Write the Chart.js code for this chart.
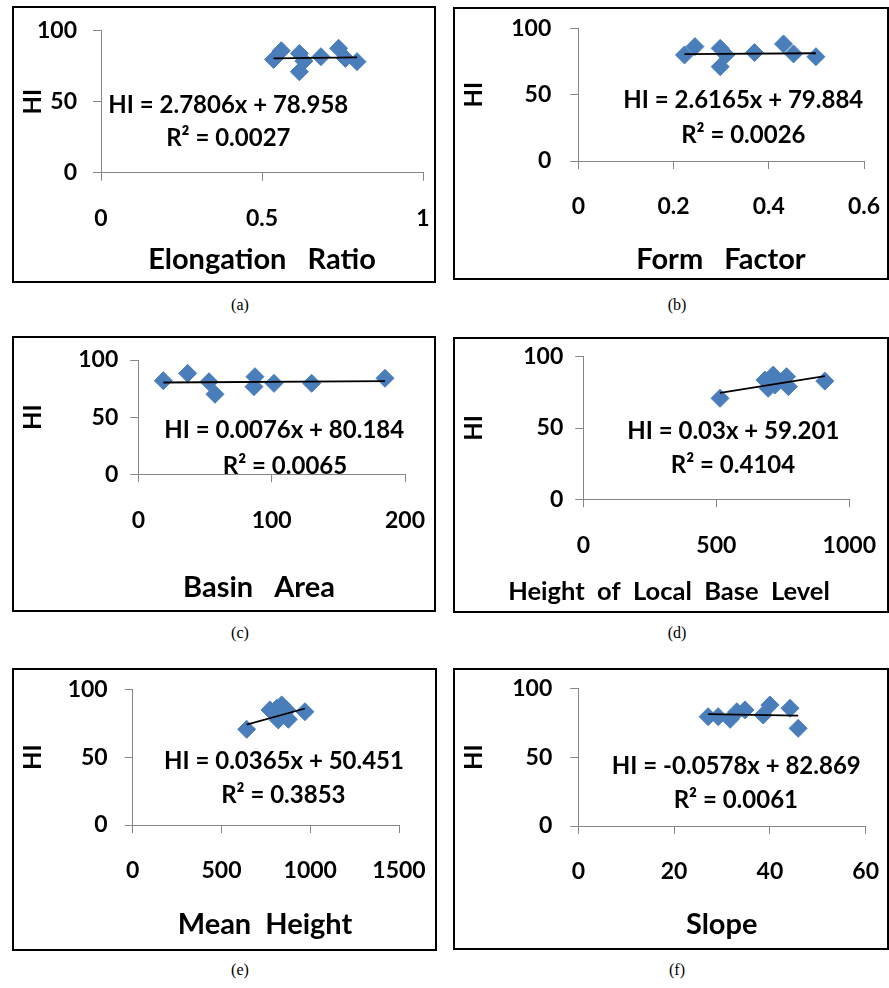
<!DOCTYPE html>
<html><head><meta charset="utf-8">
<script src="https://cdn.jsdelivr.net/npm/chart.js@4.4.0/dist/chart.umd.min.js"></script>
<style>
html,body{margin:0;padding:0;background:#fff}
body{width:889px;height:988px;position:relative;overflow:hidden}
.panel{position:absolute;border:2px solid #000;box-sizing:border-box;background:#fff}
.panel canvas{position:absolute;left:0;top:0}
.cap{position:absolute;font-family:"Liberation Serif","DejaVu Serif",serif;font-size:16px;color:#000;transform:translate(-50%,-50%);white-space:nowrap}
</style></head><body>
<script>
// ---------------- DATA ----------------
const elongationRatio = [0.536, 0.560, 0.616, 0.630, 0.616, 0.683, 0.738, 0.759, 0.795];
const hiElongation    = [79.8, 85.9, 84.0, 78.6, 71.1, 81.7, 87.6, 80.5, 78.2];

const formFactor = [0.223, 0.245, 0.298, 0.310, 0.298, 0.370, 0.431, 0.452, 0.499];
const hiForm     = [79.9, 86.2, 84.9, 80.0, 71.1, 81.7, 88.2, 80.7, 78.6];

const basinArea = [18.75, 37, 53, 57.5, 87.5, 86.75, 101.75, 130, 185];
const hiBasin   = [81.9, 88.3, 81.0, 70.0, 85.4, 76.7, 79.6, 79.6, 84.0];

const baseLevelHeight = [514, 683, 695, 714, 720, 733, 764, 771, 908];
const hiBaseLevel     = [70.8, 83.6, 77.8, 87.1, 80.1, 82.5, 86.0, 79.0, 82.9];

const meanHeight = [642, 773, 811, 820, 839, 849, 867, 877, 970];
const hiMean     = [70.5, 84.8, 86.0, 77.4, 88.5, 82.3, 84.8, 77.9, 83.5];

const slopeDeg = [27.1, 29.2, 31.7, 33.1, 34.8, 38.6, 40.0, 44.2, 45.9];
const hiSlope  = [79.4, 79.4, 77.5, 83.0, 84.3, 80.6, 87.9, 85.5, 70.9];

const xTitles = ['Elongation   Ratio', 'Form   Factor', 'Basin   Area', 'Height  of  Local  Base  Level', 'Mean  Height', 'Slope'];
const captions = ['(a)', '(b)', '(c)', '(d)', '(e)', '(f)'];
const xMaxes  = [1, 0.6, 200, 1000, 1500, 60];
const xSteps  = [0.5, 0.2, 100, 500, 500, 20];
const yTicks  = [0, 50, 100];
const trendSlope     = ['2.7806', '2.6165', '0.0076', '0.03', '0.0365', '-0.0578'];
const trendIntercept = ['78.958', '79.884', '80.184', '59.201', '50.451', '82.869'];
const rSquared       = ['0.0027', '0.0026', '0.0065', '0.4104', '0.3853', '0.0061'];

const seriesX = [elongationRatio, formFactor, basinArea, baseLevelHeight, meanHeight, slopeDeg];
const seriesY = [hiElongation, hiForm, hiBasin, hiBaseLevel, hiMean, hiSlope];

// ---------------- LAYOUT (page pixels) ----------------
const layoutCfg = [
  {box:[12,6,424,277],  plot:[101,30.7,423,172.7],   eq:[228.3,105], r2:[228.3,138.3], xt:[262,260],   xtFont:29, yPad:16, cap:[240,305]},
  {box:[453,7,436,273], plot:[578.3,28.3,864,161],   eq:[743.3,100], r2:[743.3,135],   xt:[721,259.3], xtFont:29, yPad:19, cap:[677,305]},
  {box:[12,336,424,276],plot:[138.3,360,405,474.3],  eq:[284.2,430], r2:[285,466],     xt:[259,588],   xtFont:29, yPad:12, cap:[240,633]},
  {box:[453,337,436,276],plot:[583.3,356.7,849.3,499.3],eq:[733.3,431.7],r2:[733,465], xt:[669,591.7], xtFont:25.5, yPad:12, cap:[677,633]},
  {box:[12,668,425,283],plot:[132.7,689.3,399,825],  eq:[284,761],   r2:[283.3,795],   xt:[265,925],   xtFont:29, yPad:17, cap:[240,970]},
  {box:[453,668,436,282],plot:[578.3,688.3,865.7,826],eq:[736.3,766.7],r2:[735.8,800], xt:[721.7,925], xtFont:29, yPad:18, cap:[677,970]}
];

const FONT = 'Lato, "Open Sans", "Liberation Sans", sans-serif';
const BLUE = '#4A7EBB';
const AXIS = '#868686';

const textPlugin = {
  id: 'panelText',
  afterDraw(chart, args, opts) {
    const ctx = chart.ctx;
    ctx.save();
    ctx.fillStyle = '#000';
    ctx.textAlign = 'center';
    ctx.textBaseline = 'middle';
    for (const t of opts.items) {
      ctx.font = 'bold ' + t.size + 'px ' + FONT;
      ctx.fillText(t.text, t.x, t.y);
    }
    ctx.restore();
  }
};

function zeroPad(s) { s.paddingTop = 0; s.paddingBottom = 0; s.paddingLeft = 0; s.paddingRight = 0; }
function fmt(v) { return String(parseFloat(Number(v).toFixed(6))); }

layoutCfg.forEach((L, i) => {
  const [bx, by, bw, bh] = L.box;
  const div = document.createElement('div');
  div.className = 'panel';
  div.style.left = bx + 'px'; div.style.top = by + 'px';
  div.style.width = bw + 'px'; div.style.height = bh + 'px';
  document.body.appendChild(div);
  const cx = bx + 2, cy = by + 2, cw = bw - 4, ch = bh - 4;
  const canvas = document.createElement('canvas');
  canvas.width = cw; canvas.height = ch;
  canvas.style.width = cw + 'px'; canvas.style.height = ch + 'px';
  div.appendChild(canvas);

  const cap = document.createElement('div');
  cap.className = 'cap';
  cap.textContent = captions[i];
  cap.style.left = L.cap[0] + 'px'; cap.style.top = L.cap[1] + 'px';
  document.body.appendChild(cap);

  const [pl, pt, pr, pb] = L.plot;
  const xs = seriesX[i], ys = seriesY[i];
  const pts = xs.map((x, k) => ({x: x, y: ys[k]}));
  const m = parseFloat(trendSlope[i]), b = parseFloat(trendIntercept[i]);
  const xmin = Math.min(...xs), xmax = Math.max(...xs);
  const trend = [{x: xmin, y: m * xmin + b}, {x: xmax, y: m * xmax + b}];

  new Chart(canvas, {
    type: 'scatter',
    data: {
      datasets: [
        {type: 'line', data: trend, borderColor: '#000', borderWidth: 1.8, pointRadius: 0, fill: false, order: 0},
        {data: pts, pointStyle: 'rectRot', pointRadius: 9, pointHoverRadius: 9, backgroundColor: BLUE, borderColor: BLUE, borderWidth: 1, order: 1}
      ]
    },
    options: {
      responsive: false,
      animation: false,
      devicePixelRatio: 1,
      layout: {autoPadding: false, padding: {left: 0, top: pt - cy, right: (cx + cw) - pr, bottom: 0}},
      plugins: {
        legend: {display: false},
        tooltip: {enabled: false},
        panelText: {items: [
          {text: 'HI = ' + trendSlope[i] + 'x + ' + trendIntercept[i], x: L.eq[0] - cx, y: L.eq[1] - cy, size: 24},
          {text: 'R\u00B2 = ' + rSquared[i], x: L.r2[0] - cx, y: L.r2[1] - cy, size: 24},
          {text: xTitles[i], x: L.xt[0] - cx, y: L.xt[1] - cy, size: L.xtFont}
        ]}
      },
      scales: {
        x: {
          type: 'linear', min: 0, max: xMaxes[i],
          afterFit(s) { s.height = (cy + ch) - pb; zeroPad(s); },
          border: {display: true, color: AXIS, width: 1},
          grid: {display: true, drawOnChartArea: false, drawTicks: true, tickLength: 8, color: AXIS},
          ticks: {stepSize: xSteps[i], padding: 24, color: '#000', font: {family: FONT, size: 23, weight: 'bold'}, maxRotation: 0, callback: fmt},
          title: {display: false}
        },
        y: {
          type: 'linear', min: 0, max: 100,
          afterFit(s) { s.width = pl - cx; zeroPad(s); },
          afterBuildTicks(s) { s.ticks = yTicks.map(v => ({value: v})); },
          border: {display: true, color: AXIS, width: 1},
          grid: {display: true, drawOnChartArea: false, drawTicks: true, tickLength: 8, color: AXIS},
          ticks: {padding: L.yPad, color: '#000', font: {family: FONT, size: 23, weight: 'bold'}, callback: fmt},
          title: {display: true, text: 'HI', color: '#000', padding: {top: 5, bottom: 0}, font: {family: FONT, size: 24, weight: 'bold'}}
        }
      }
    },
    plugins: [textPlugin]
  });
});
</script>
</body></html>
